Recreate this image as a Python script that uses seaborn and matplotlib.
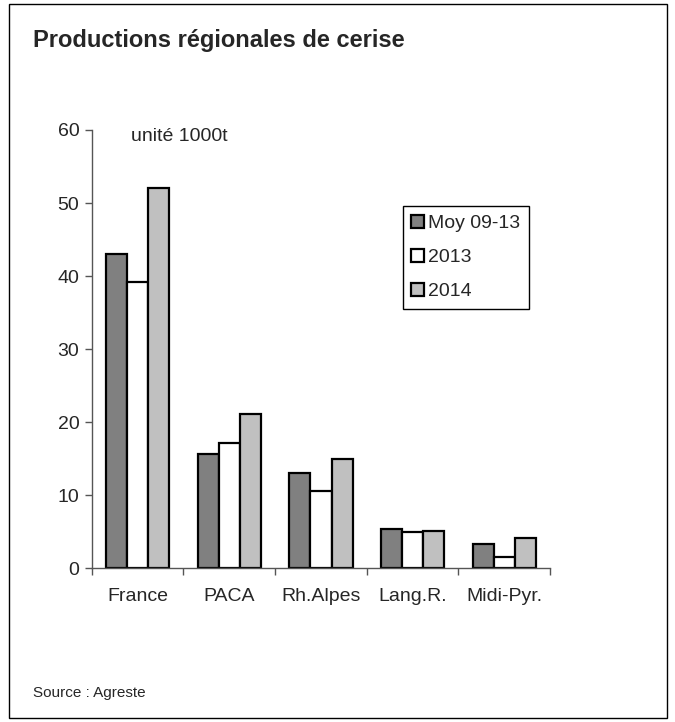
import matplotlib
matplotlib.use("Agg")
import matplotlib.pyplot as plt
import seaborn as sns
import pandas as pd

# --- data (unit: 1000 t) ---
regions = ["France", "PACA", "Rh.Alpes", "Lang.R.", "Midi-Pyr."]
series = ["Moy 09-13", "2013", "2014"]
moy_09_13 = [43.0, 15.6, 13.0, 5.4, 3.3]
prod_2013 = [39.2, 17.1, 10.6, 4.9, 1.6]
prod_2014 = [52.0, 21.1, 14.9, 5.1, 4.2]
colors = ["#808080", "#ffffff", "#c0c0c0"]

df = pd.DataFrame({
    "region": regions * 3,
    "serie": [s for s in series for _ in regions],
    "value": moy_09_13 + prod_2013 + prod_2014,
})

sns.set_theme(style="white")
plt.rcParams["font.family"] = ["Liberation Sans", "DejaVu Sans"]

fig = plt.figure(figsize=(6.75, 7.22), dpi=100)
ax = fig.add_axes([0.136, 0.213, 0.679, 0.607])

sns.barplot(data=df, x="region", y="value", hue="serie", order=regions,
            hue_order=series, palette=colors, width=0.69, saturation=1,
            edgecolor="black", linewidth=1.6, ax=ax)

ax.set_ylim(0, 60)
ax.set_xlim(-0.5, 4.5)
ax.set_yticks(range(0, 61, 10))
ax.set_xlabel("")
ax.set_ylabel("")
ax.tick_params(axis="y", which="major", left=True, length=5, width=1,
               color="#555555", labelsize=14, pad=4)
ax.tick_params(axis="x", which="major", bottom=False, labelsize=14, pad=8)
ax.set_xticks([i - 0.5 for i in range(6)], minor=True)
ax.tick_params(axis="x", which="minor", bottom=True, length=5, width=1,
               color="#555555")
for side in ["top", "right"]:
    ax.spines[side].set_visible(False)
for side in ["left", "bottom"]:
    ax.spines[side].set_color("#555555")
    ax.spines[side].set_linewidth(1)

ax.legend(loc="upper left", bbox_to_anchor=(0.678, 0.826), fontsize=14,
          frameon=True, fancybox=False, edgecolor="black", framealpha=1,
          handlelength=0.65, handleheight=0.65, handletextpad=0.2,
          labelspacing=0.85, borderpad=0.45, borderaxespad=0)

ax.text(0.085, 0.985, "unité 1000t", transform=ax.transAxes, fontsize=14,
        va="center", ha="left")

fig.text(0.049, 0.944, "Productions régionales de cerise", fontsize=17,
         fontweight="bold", va="center", ha="left")
fig.text(0.049, 0.04, "Source : Agreste", fontsize=11, va="center", ha="left")

fig.add_artist(plt.Rectangle((0.0133, 0.0055), 0.975, 0.989,
                             transform=fig.transFigure, fill=False,
                             edgecolor="black", linewidth=1))

fig.savefig("out.png", dpi=100)
